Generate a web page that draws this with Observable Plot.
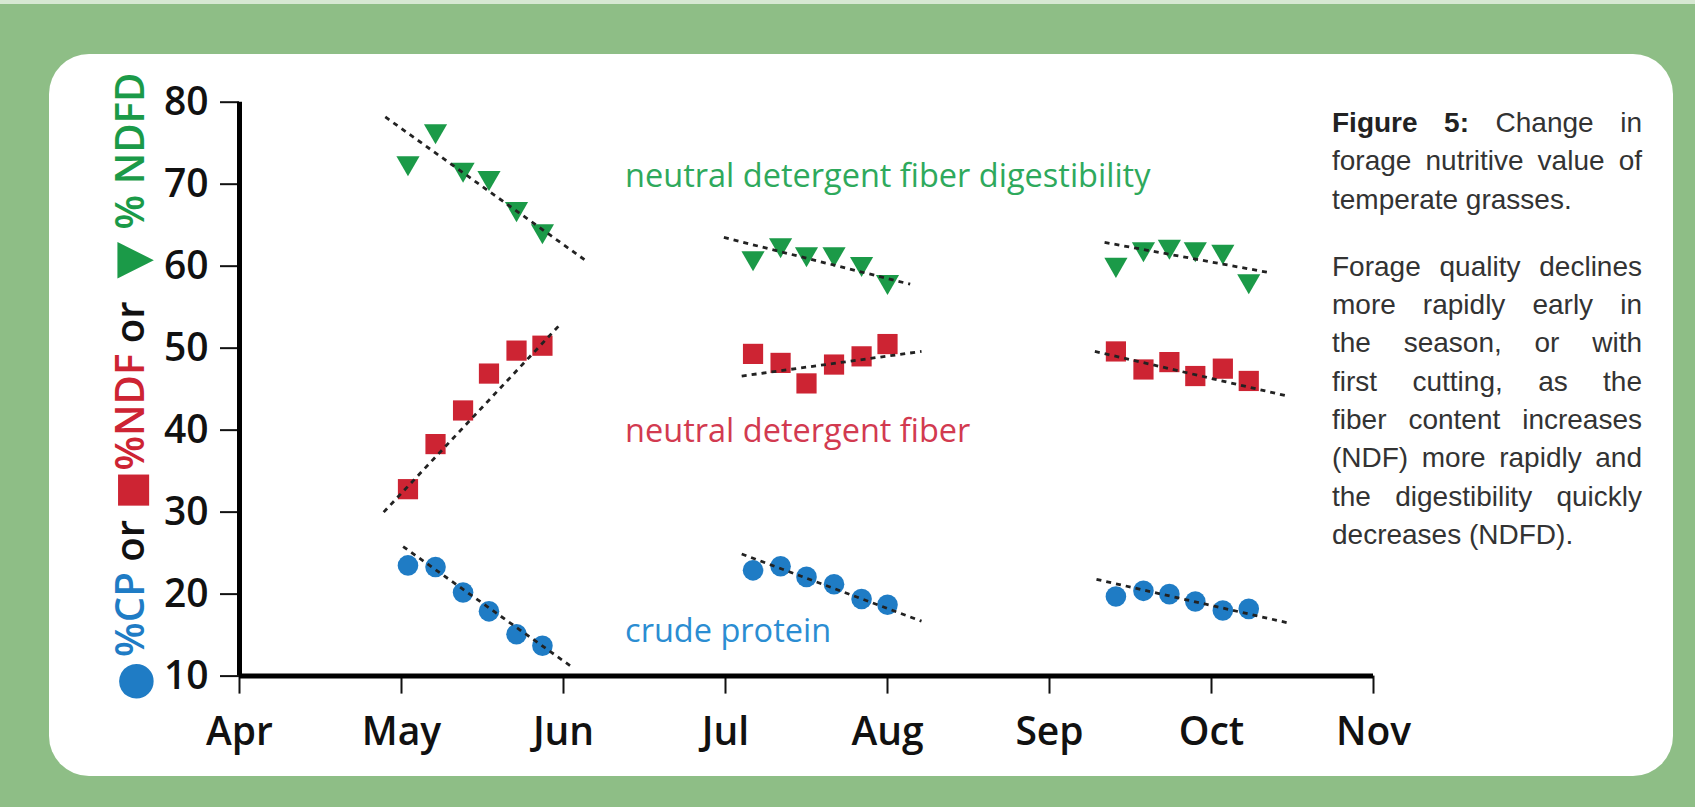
<!DOCTYPE html>
<html><head><meta charset="utf-8">
<script src="https://cdn.jsdelivr.net/npm/d3@7"></script>
<script src="https://cdn.jsdelivr.net/npm/@observablehq/plot@0.6"></script>
<style>
html,body{margin:0;padding:0}
body{width:1695px;height:807px;background:#8ebe86;position:relative;overflow:hidden;font-family:"Open Sans",sans-serif}
#topstrip{position:absolute;left:0;top:0;width:1695px;height:4px;background:#d6e8d2}
#panel{position:absolute;left:49px;top:54px;width:1624px;height:722px;background:#fff;border-radius:40px}
#chart{position:absolute;left:0;top:0}
#caption{position:absolute;left:1332px;top:104px;width:310px;font-family:"Liberation Sans",Arial,sans-serif;font-size:28px;line-height:38.3px;color:#333}
#caption .l{text-align:justify;text-align-last:justify}
#caption .e{text-align:left;text-align-last:left}
#caption .gap{height:29px}
#caption b{color:#222}
</style>
</head><body>
<div id="topstrip"></div>
<div id="panel"></div>
<div id="chart"></div>
<div id="caption">
  <div class="l"><b>Figure 5:</b> Change in</div>
  <div class="l">forage nutritive value of</div>
  <div class="e">temperate grasses.</div>
  <div class="gap"></div>
  <div class="l">Forage quality declines</div>
  <div class="l">more rapidly early in</div>
  <div class="l">the season, or with</div>
  <div class="l">first cutting, as the</div>
  <div class="l">fiber content increases</div>
  <div class="l">(NDF) more rapidly and</div>
  <div class="l">the digestibility quickly</div>
  <div class="e">decreases (NDFD).</div>
</div>
<script>
// ---- axis ticks ----
const monthTicks = [4, 5, 6, 7, 8, 9, 10, 11];
const monthLabels = ["Apr", "May", "Jun", "Jul", "Aug", "Sep", "Oct", "Nov"];
const yTicks = [10, 20, 30, 40, 50, 60, 70, 80];

// ---- sampling dates (fractional month: 5 = 1 May) ----
const cut1Month = [5.04, 5.21, 5.38, 5.54, 5.71, 5.87];
const cut2Month = [7.17, 7.34, 7.50, 7.67, 7.84, 8.00];
const cut3Month = [9.41, 9.58, 9.74, 9.90, 10.07, 10.23];

// ---- % NDFD (green triangles) ----
const ndfd1 = [72.6, 76.5, 71.8, 70.8, 67.0, 64.3];
const ndfd2 = [61.0, 62.6, 61.5, 61.5, 60.3, 58.1];
const ndfd3 = [60.2, 62.1, 62.4, 62.1, 61.8, 58.2];

// ---- % NDF (red squares) ----
const ndf1 = [32.8, 38.3, 42.4, 46.9, 49.7, 50.3];
const ndf2 = [49.3, 48.2, 45.7, 48.0, 49.0, 50.5];
const ndf3 = [49.6, 47.4, 48.3, 46.6, 47.5, 46.0];

// ---- % CP (blue circles) ----
const cp1 = [23.5, 23.3, 20.2, 17.9, 15.1, 13.7];
const cp2 = [22.9, 23.4, 22.1, 21.2, 19.4, 18.7];
const cp3 = [19.7, 20.4, 20.0, 19.1, 18.0, 18.2];

// ---- dashed trend lines: [startMonth, startValue, endMonth, endValue] ----
const ndfdTrend = [[4.90, 78.2, 6.15, 60.5], [6.99, 63.5, 8.14, 57.8], [9.34, 62.9, 10.36, 59.2]];
const ndfTrend  = [[4.89, 30.0, 5.97, 52.7], [7.10, 46.6, 8.21, 49.6], [9.28, 49.6, 10.46, 44.2]];
const cpTrend   = [[5.01, 25.8, 6.06, 11.0], [7.10, 24.9, 8.21, 16.7], [9.29, 21.8, 10.47, 16.5]];

// ---- series names ----
const seriesNames = ["neutral detergent fiber digestibility", "neutral detergent fiber", "crude protein"];
const seriesLabelAnchor = [[6.38, 70.9], [6.38, 39.8], [6.38, 15.4]];

const GREEN = "#1b9a48", RED = "#cd2433", BLUE = "#1f7cc5";
const labelColors = ["#2ea95c", "#d23a50", "#2b8dd2"];

const months = [...cut1Month, ...cut2Month, ...cut3Month];
const toRows = (vals) => vals.map((v, i) => ({x: months[i], y: v}));
const ndfdRows = toRows([...ndfd1, ...ndfd2, ...ndfd3]);
const ndfRows = toRows([...ndf1, ...ndf2, ...ndf3]);
const cpRows = toRows([...cp1, ...cp2, ...cp3]);
const trendRows = [...ndfdTrend, ...ndfTrend, ...cpTrend].map(([x1, y1, x2, y2]) => ({x1, y1, x2, y2}));
const labelRows = seriesNames.map((t, i) => ({text: t, x: seriesLabelAnchor[i][0], y: seriesLabelAnchor[i][1], c: labelColors[i]}));

const chart = Plot.plot({
  width: 1440,
  height: 807,
  marginLeft: 239,
  marginRight: 67,
  marginTop: 101.7,
  marginBottom: 131.4,
  style: {background: "transparent", fontFamily: "Open Sans", overflow: "visible", color: "#111"},
  x: {domain: [4, 11]},
  y: {domain: [10, 80]},
  marks: [
    Plot.axisY({ticks: yTicks, tickSize: 19, tickPadding: 12, label: null, tickFormat: d => String(d)}),
    Plot.axisX({ticks: monthTicks, tickSize: 18, tickPadding: 23, label: null, tickFormat: d => monthLabels[monthTicks.indexOf(d)]}),
    Plot.ruleX([4], {y1: 10, y2: 80, stroke: "#000", strokeWidth: 5}),
    Plot.ruleY([10], {x1: 4, x2: 11, stroke: "#000", strokeWidth: 5}),
    Plot.text(labelRows, {x: "x", y: "y", text: "text", fill: "c", textAnchor: "start", fontSize: 32.5, fontFamily: "Open Sans"}),
    Plot.dot(ndfdRows, {x: "x", y: "y", symbol: "triangle", rotate: 180, r: 8.6, fill: GREEN}),
    Plot.dot(ndfRows, {x: "x", y: "y", symbol: "square", r: 11.4, fill: RED}),
    Plot.dot(cpRows, {x: "x", y: "y", symbol: "circle", r: 10.3, fill: BLUE}),
    Plot.link(trendRows, {x1: "x1", y1: "y1", x2: "x2", y2: "y2", stroke: "#222", strokeWidth: 2.8, strokeDasharray: "5,5"})
  ]
});
document.getElementById("chart").appendChild(chart);

const svg = d3.select(chart);
svg.selectAll('g[aria-label="y-axis tick label"], g[aria-label="x-axis tick label"]')
  .attr("font-size", 39).attr("font-weight", 600).attr("fill", "#111")
  .style("font-size", "39px").style("font-weight", "600");
svg.selectAll('g[aria-label="y-axis tick"], g[aria-label="x-axis tick"]')
  .attr("stroke", "#111").attr("stroke-width", 2);

// multi-coloured rotated y-axis title
const parts = [
  ["●", BLUE, 2.0], ["%CP", BLUE, 1], [" or ", "#111", 1], ["■", RED, 1.6], ["%NDF", RED, 1],
  [" or ", "#111", 1], ["▼", GREEN, 1.55], ["% NDFD", GREEN, 1]
];
const title = svg.append("text")
  .attr("transform", "translate(128,389) rotate(-90)")
  .attr("text-anchor", "middle")
  .attr("dominant-baseline", "central")
  .attr("font-family", "Open Sans")
  .attr("font-weight", 600);
const spans = parts.map(([t, c, s]) => title.append("tspan").text(t).attr("fill", c).attr("data-s", s));
function setSize(fs) { spans.forEach(sp => sp.attr("font-size", fs * +sp.attr("data-s"))); }
let fs = 40; setSize(fs);
const len = title.node().getComputedTextLength();
fs = Math.max(32, Math.min(48, fs * 633 / len)); setSize(fs);
</script>
</body></html>
